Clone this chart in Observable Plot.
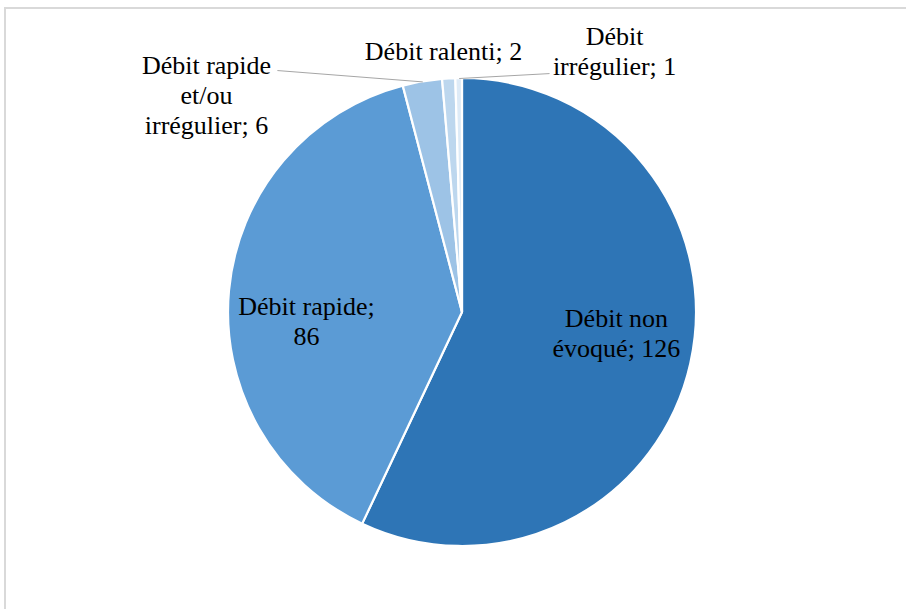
<!DOCTYPE html>
<html><head><meta charset="utf-8">
<script src="https://cdn.jsdelivr.net/npm/d3@7"></script>
<script src="https://cdn.jsdelivr.net/npm/@observablehq/plot@0.6"></script>
<style>
body{margin:0;background:#fff;}
#wrap{position:relative;width:906px;height:609px;overflow:hidden;background:#fff;}
#chart{position:absolute;left:0;top:0;}
#chart svg text{font-family:"Liberation Serif","Times New Roman",serif !important;}
#frame{position:absolute;left:4px;top:7px;width:910px;height:620px;border-top:2px solid #d9d9d9;border-left:2px solid #d9d9d9;pointer-events:none;}
</style></head><body>
<div id="wrap"><div id="chart"></div><div id="frame"></div></div>
<script>
// Data
const categories = ["Débit non évoqué", "Débit rapide", "Débit rapide et/ou irrégulier", "Débit ralenti", "Débit irrégulier"];
const values = [126, 86, 6, 2, 1];
const labels = ["Débit non\névoqué; 126", "Débit rapide;\n86", "Débit rapide\net/ou\nirrégulier; 6", "Débit ralenti; 2", "Débit\nirrégulier; 1"];
const colors = ["#2E75B6", "#5B9BD5", "#9DC3E6", "#BDD7EE", "#DEEBF7"];

// Label layout (in pie-radius units, y downward)
const labelX = [0.658, -0.667, -1.094, -0.081, 0.65];
const labelY = [0.0855, 0.034, -0.932, -1.12, -1.12];
const leaderStart = [null, null, [-0.791, -1.034], null, [0.372, -1.021]];

const table = categories.map((c, i) => ({category: c, value: values[i], label: labels[i], color: colors[i], lx: labelX[i], ly: labelY[i]}));
const arcs = d3.pie().sort(null).value(d => d.value)(table);
arcs.forEach(a => { a.mid = (a.startAngle + a.endAngle) / 2; });

const leaders = arcs
  .map((a, i) => leaderStart[i] ? {x1: leaderStart[i][0], y1: leaderStart[i][1], x2: Math.sin(a.mid), y2: -Math.cos(a.mid)} : null)
  .filter(d => d);

function pieMark(index, scales) {
  const cx = scales.x(0), cy = scales.y(0), r = scales.x(1) - scales.x(0);
  const g = d3.create("svg:g").attr("transform", `translate(${cx},${cy})`);
  g.selectAll("path").data(arcs).join("path")
    .attr("d", d3.arc().innerRadius(0).outerRadius(r))
    .attr("fill", d => d.data.color)
    .attr("stroke", "#fff")
    .attr("stroke-width", 2.2)
    .attr("stroke-linejoin", "round");
  return g.node();
}

const chart = Plot.plot({
  width: 906,
  height: 609,
  margin: 0,
  style: {background: "transparent", fontFamily: "Liberation Serif"},
  x: {domain: [-1, 1], range: [228, 696], axis: null},
  y: {domain: [-1, 1], range: [78, 546], axis: null},
  marks: [
    pieMark,
    Plot.link(leaders, {x1: "x1", y1: "y1", x2: "x2", y2: "y2", stroke: "#a6a6a6", strokeWidth: 1}),
    Plot.text(table, {x: "lx", y: "ly", text: "label", fontFamily: "Liberation Serif", fontSize: 26, lineHeight: 1.15, fill: "#000", textAnchor: "middle", lineAnchor: "middle"})
  ]
});
document.getElementById("chart").appendChild(chart);
</script>
</body></html>
